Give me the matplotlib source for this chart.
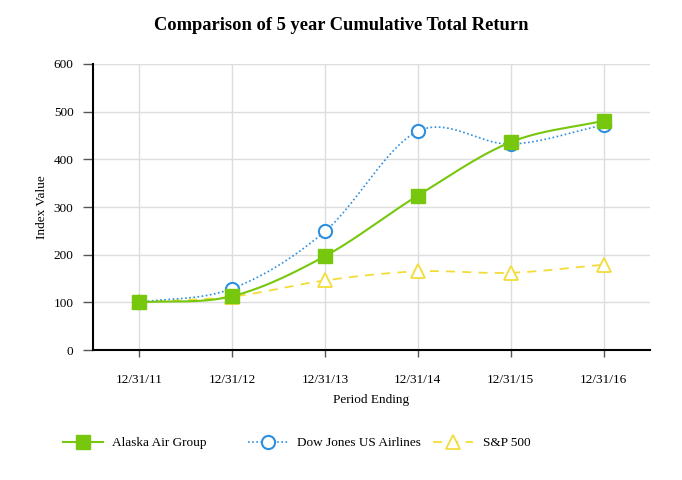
import numpy as np
import matplotlib.pyplot as plt
from matplotlib.lines import Line2D

plt.rcParams['font.family'] = ['Liberation Serif', 'DejaVu Serif']

# data
periods = ["12/31/11", "12/31/12", "12/31/13", "12/31/14", "12/31/15", "12/31/16"]
alaska = [100, 113, 197, 324, 436, 481]
dow_jones = [100, 129, 249, 459, 432, 472]
sp500 = [100, 112, 146, 165, 162, 179]

green = "#77c70e"
blue = "#2d8fe0"
yellow = "#f3dc3a"


def smooth(y, n=40):
    # catmull-rom style curve through the points (only for drawing the line)
    y = np.asarray(y, dtype=float)
    x = np.arange(len(y))
    m = np.zeros_like(y)
    m[1:-1] = (y[2:] - y[:-2]) / 2
    m[0] = y[1] - y[0]
    m[-1] = y[-1] - y[-2]
    xs, ys = [], []
    for i in range(len(y) - 1):
        t = np.linspace(0, 1, n)
        h00 = 2*t**3 - 3*t**2 + 1
        h10 = t**3 - 2*t**2 + t
        h01 = -2*t**3 + 3*t**2
        h11 = t**3 - t**2
        xs.append(x[i] + t)
        ys.append(h00*y[i] + h10*m[i] + h01*y[i+1] + h11*m[i+1])
    return np.concatenate(xs), np.concatenate(ys)


fig = plt.figure(figsize=(6.82, 4.8), dpi=100)
ax = fig.add_axes([0.1364, 0.2708, 0.8166, 0.5959])

x = np.arange(len(periods))

sx, sy = smooth(sp500)
ax.plot(sx, sy, color=yellow, lw=1.3, ls=(0, (5, 4)))
ax.plot(x, sp500, ls="none", marker="^", ms=10.5, mfc="white", mec=yellow, mew=1.3)

sx, sy = smooth(dow_jones)
ax.plot(sx, sy, color=blue, lw=1.2, ls=(0, (1, 1.5)))
ax.plot(x, dow_jones, ls="none", marker="o", ms=9.5, mfc="white", mec=blue, mew=1.5)

sx, sy = smooth(alaska)
ax.plot(sx, sy, color=green, lw=1.5)
ax.plot(x, alaska, ls="none", marker="s", ms=10, mfc=green, mec=green)

ax.set_xlim(-0.5, 5.5)
ax.set_ylim(0, 600)
ax.set_xticks(x)
ax.set_xticklabels(periods)
ax.set_yticks(range(0, 601, 100))
ax.grid(True, color="#dddddd", lw=1)
ax.set_axisbelow(True)

for s in ["top", "right"]:
    ax.spines[s].set_visible(False)
for s in ["left", "bottom"]:
    ax.spines[s].set_linewidth(1.5)
ax.tick_params(axis="y", length=7, width=1, color="#555555", labelsize=9.5, pad=7)
ax.tick_params(axis="x", length=5, width=1, color="#555555", labelsize=9.5, pad=12)

ax.set_xlabel("Period Ending", fontsize=9.5, labelpad=6)
ax.set_ylabel("Index Value", fontsize=9.5, labelpad=4)
fig.text(0.5, 0.947, "Comparison of 5 year Cumulative Total Return",
         ha="center", va="center", fontsize=13.3, fontweight="bold")

# legend, three separate entries to match the uneven spacing
h1 = Line2D([], [], color=green, lw=1.5, marker="s", ms=10, mfc=green, mec=green)
h2 = Line2D([], [], color=blue, lw=1.2, ls=(0, (1, 1.5)), marker="o", ms=9.5,
            mfc="white", mec=blue, mew=1.5)
h3 = Line2D([], [], color=yellow, lw=1.3, ls=(0, (5, 4)), marker="^", ms=10.5,
            mfc="white", mec=yellow, mew=1.3)
legend_pos = [(0.0924, h1, "Alaska Air Group"),
              (0.3636, h2, "Dow Jones US Airlines"),
              (0.635, h3, "S&P 500")]
for xpos, h, lab in legend_pos:
    lg = fig.legend([h], [lab], loc="center left", bbox_to_anchor=(xpos, 0.077),
                    frameon=False, fontsize=9.5, handlelength=3.0, handletextpad=0.75,
                    borderaxespad=0, borderpad=0)

fig.savefig("out.png", dpi=100)
